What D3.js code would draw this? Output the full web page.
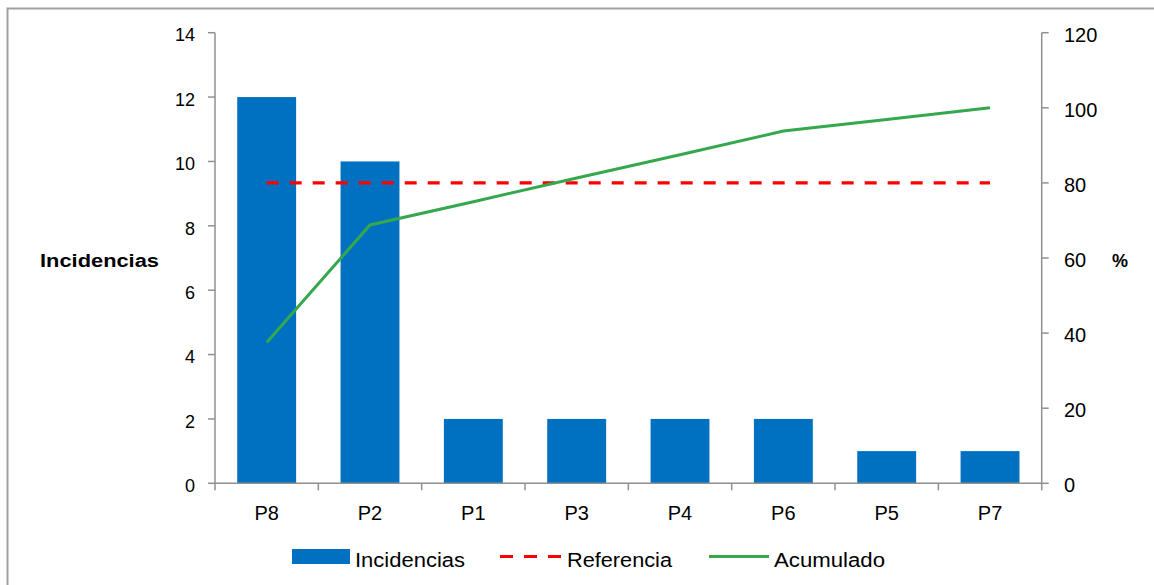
<!DOCTYPE html>
<html>
<head>
<meta charset="utf-8">
<script src="https://cdn.jsdelivr.net/npm/d3@7"></script>
<style>
  body { margin: 0; background: #fff; }
  svg { display: block; font-family: "Liberation Sans", Arial, sans-serif; }
</style>
</head>
<body>
<div id="chart"></div>
<script>
// datos
var categorias = ["P8", "P2", "P1", "P3", "P4", "P6", "P5", "P7"];
var incidencias = [12, 10, 2, 2, 2, 2, 1, 1];
var acumulado = [37.5, 68.8, 75, 81.3, 87.5, 93.8, 96.9, 100];
var referencia = [80, 80, 80, 80, 80, 80, 80, 80];
var ticksIzq = [0, 2, 4, 6, 8, 10, 12, 14];
var ticksDer = [0, 20, 40, 60, 80, 100, 120];

var width = 1154, height = 585;
var mLeft = 215, mRight = 1041.7, mTop = 32.7, mBottom = 483.3;

var svg = d3.select("#chart").append("svg")
    .attr("width", width)
    .attr("height", height);

// marco
svg.append("rect")
    .attr("x", 7.5).attr("y", 8.5)
    .attr("width", width + 10).attr("height", height + 10)
    .attr("fill", "none")
    .attr("stroke", "#a0a0a0")
    .attr("stroke-width", 2);

var x = d3.scaleBand()
    .domain(categorias)
    .range([mLeft, mRight])
    .paddingInner(0.43)
    .paddingOuter(0.215);

var y = d3.scaleLinear().domain([0, 14]).range([mBottom, mTop]);
var y2 = d3.scaleLinear().domain([0, 120]).range([mBottom, mTop]);

var cx = d => x(d) + x.bandwidth() / 2;

// barras
svg.append("g")
  .selectAll("rect")
  .data(incidencias)
  .join("rect")
    .attr("x", (d, i) => x(categorias[i]))
    .attr("y", d => y(d))
    .attr("width", x.bandwidth())
    .attr("height", d => mBottom - y(d))
    .attr("fill", "#0070C0");

// ejes
var gris = "#909090";
var ax = svg.append("g").attr("stroke", gris).attr("stroke-width", 1.5).attr("fill", "none");
ax.append("line").attr("x1", mLeft).attr("x2", mLeft).attr("y1", mTop).attr("y2", mBottom);
ax.append("line").attr("x1", mRight).attr("x2", mRight).attr("y1", mTop).attr("y2", mBottom);
ax.append("line").attr("x1", mLeft).attr("x2", mRight).attr("y1", mBottom).attr("y2", mBottom);

ax.selectAll(".ti").data(ticksIzq).join("line")
    .attr("x1", mLeft - 7).attr("x2", mLeft)
    .attr("y1", d => y(d)).attr("y2", d => y(d));
ax.selectAll(".td").data(ticksDer).join("line")
    .attr("x1", mRight).attr("x2", mRight + 7)
    .attr("y1", d => y2(d)).attr("y2", d => y2(d));
var bordes = categorias.map(c => x(c) - x.step() * x.paddingInner() / 2).concat([mRight]);
ax.selectAll(".tx").data(bordes).join("line")
    .attr("x1", d => d).attr("x2", d => d)
    .attr("y1", mBottom).attr("y2", mBottom + 7);

// etiquetas
var txt = svg.append("g").attr("font-size", 18).attr("fill", "#000");
txt.selectAll(".li").data(ticksIzq).join("text")
    .attr("x", 195).attr("y", d => y(d)).attr("dy", 8.7)
    .attr("text-anchor", "end")
    .text(d => d);
txt.selectAll(".ld").data(ticksDer).join("text")
    .attr("x", 1064).attr("y", d => y2(d)).attr("dy", 9)
    .attr("font-size", 20)
    .text(d => d);
txt.selectAll(".lx").data(categorias).join("text")
    .attr("x", d => cx(d)).attr("y", 520)
    .attr("text-anchor", "middle")
    .attr("font-size", 20)
    .text(d => d);

txt.append("text")
    .attr("x", 40).attr("y", 267)
    .attr("font-weight", "bold")
    .attr("textLength", 119).attr("lengthAdjust", "spacingAndGlyphs")
    .text("Incidencias");
txt.append("text")
    .attr("x", 1112).attr("y", 267)
    .attr("font-weight", "bold")
    .text("%");

// linea de referencia
var linea = d3.line().x((d, i) => cx(categorias[i])).y(d => y2(d));
svg.append("path")
    .attr("d", linea(referencia))
    .attr("fill", "none")
    .attr("stroke", "#FF0000")
    .attr("stroke-width", 3.2)
    .attr("stroke-dasharray", "12,11");

// acumulado
svg.append("path")
    .attr("d", linea(acumulado))
    .attr("fill", "none")
    .attr("stroke", "#35A84E")
    .attr("stroke-width", 3);

// leyenda
var ly = 556.5, lt = 567;
var leg = svg.append("g").attr("font-size", 20);
leg.append("rect").attr("x", 292).attr("y", 549).attr("width", 58).attr("height", 15).attr("fill", "#0070C0");
leg.append("text").attr("x", 355).attr("y", lt)
    .attr("textLength", 110).attr("lengthAdjust", "spacingAndGlyphs").text("Incidencias");
leg.append("line").attr("x1", 500).attr("x2", 561).attr("y1", ly).attr("y2", ly)
    .attr("stroke", "#FF0000").attr("stroke-width", 3.2).attr("stroke-dasharray", "13,11");
leg.append("text").attr("x", 567).attr("y", lt)
    .attr("textLength", 105).attr("lengthAdjust", "spacingAndGlyphs").text("Referencia");
leg.append("line").attr("x1", 709).attr("x2", 769).attr("y1", ly).attr("y2", ly)
    .attr("stroke", "#35A84E").attr("stroke-width", 3);
leg.append("text").attr("x", 774).attr("y", lt)
    .attr("textLength", 111).attr("lengthAdjust", "spacingAndGlyphs").text("Acumulado");
</script>
</body>
</html>
